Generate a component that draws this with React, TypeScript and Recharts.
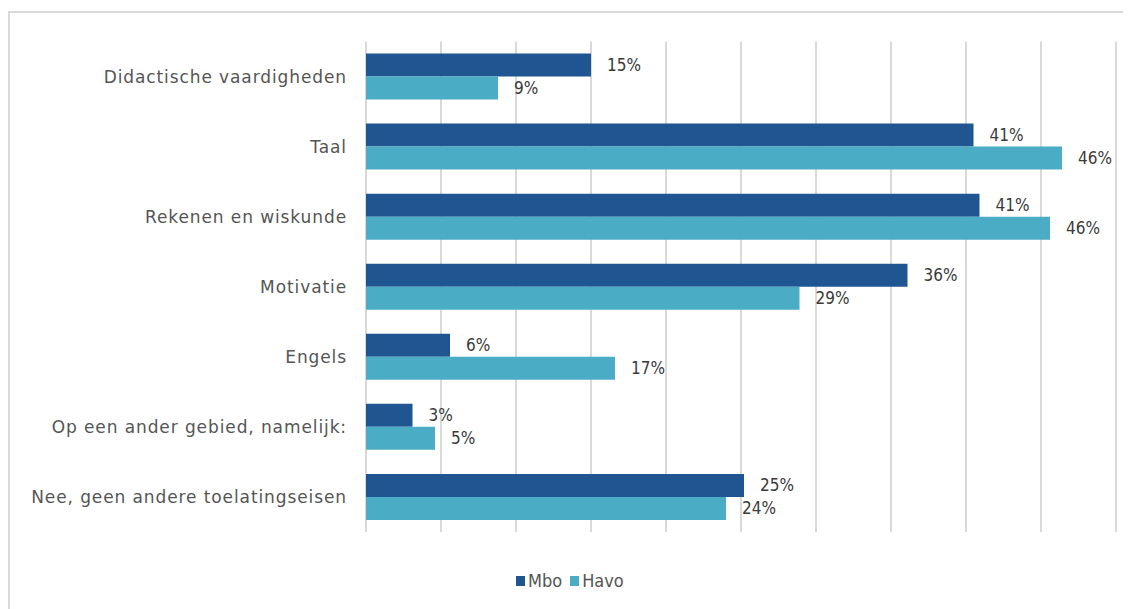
import React from 'react';
import { BarChart, Bar, XAxis, YAxis, CartesianGrid, LabelList } from 'recharts';

const categories = [
    'Didactische vaardigheden',
    'Taal',
    'Rekenen en wiskunde',
    'Motivatie',
    'Engels',
    'Op een ander gebied, namelijk:',
    'Nee, geen andere toelatingseisen',
];
const mbo = [15.0, 40.5, 40.9, 36.1, 5.6, 3.1, 25.2];
const havo = [8.8, 46.4, 45.6, 28.9, 16.6, 4.6, 24.0];
const xTicks = [0, 5, 10, 15, 20, 25, 30, 35, 40, 45, 50];
const seriesNames = ['Mbo', 'Havo'];
const seriesColors = ['#1f5591', '#4bacc6'];

const data = categories.map((name, i) => ({ name, mbo: mbo[i], havo: havo[i] }));

const pct = (v: any) => `${Math.round(Number(v))}%`;

const labelStyle = { fontFamily: '"DejaVu Sans Condensed", "DejaVu Sans", sans-serif', fontSize: 17, fill: '#3a3a3a' };

export default function App() {
    return (
        <div style={{ position: 'relative', width: 1123, height: 601, overflow: 'hidden', background: '#fff' }}>
            <div
                style={{
                    position: 'absolute',
                    left: 0,
                    top: 3,
                    width: 1300,
                    height: 800,
                    border: '2px solid #d9d9d9',
                    boxSizing: 'border-box',
                }}
            />
            <div style={{ position: 'absolute', left: 0, top: 0 }}>
                <BarChart
                    width={1123}
                    height={601}
                    data={data}
                    layout="vertical"
                    barSize={23}
                    barGap={0}
                    margin={{ top: 33.5, right: 15, left: 0, bottom: 77 }}
                >
                    <CartesianGrid horizontal={false} stroke="#d9d9d9" strokeWidth={2} />
                    <XAxis type="number" domain={[0, 50]} ticks={xTicks} hide />
                    <YAxis
                        type="category"
                        dataKey="name"
                        width={358}
                        axisLine={false}
                        tickLine={false}
                        tickSize={0}
                        tickMargin={19}
                        interval={0}
                        tick={{ fontFamily: '"DejaVu Sans", sans-serif', fontSize: 17, fill: '#555555', letterSpacing: 0.9 }}
                    />
                    <Bar dataKey="mbo" name={seriesNames[0]} fill={seriesColors[0]} isAnimationActive={false}>
                        <LabelList dataKey="mbo" position="right" offset={16} formatter={pct} style={labelStyle} />
                    </Bar>
                    <Bar dataKey="havo" name={seriesNames[1]} fill={seriesColors[1]} isAnimationActive={false}>
                        <LabelList dataKey="havo" position="right" offset={16} formatter={pct} style={labelStyle} />
                    </Bar>
                </BarChart>
            </div>
            <div
                style={{
                    position: 'absolute',
                    left: 508,
                    top: 562,
                    display: 'flex',
                    alignItems: 'center',
                    gap: 8,
                    fontFamily: '"DejaVu Sans Condensed", "DejaVu Sans", sans-serif',
                    fontSize: 18,
                    color: '#555555',
                }}
            >
                {seriesNames.map((n, i) => (
                    <div key={n} style={{ display: 'flex', alignItems: 'center', gap: 3 }}>
                        <div style={{ width: 9, height: 10, background: seriesColors[i] }} />
                        <span>{n}</span>
                    </div>
                ))}
            </div>
        </div>
    );
}
